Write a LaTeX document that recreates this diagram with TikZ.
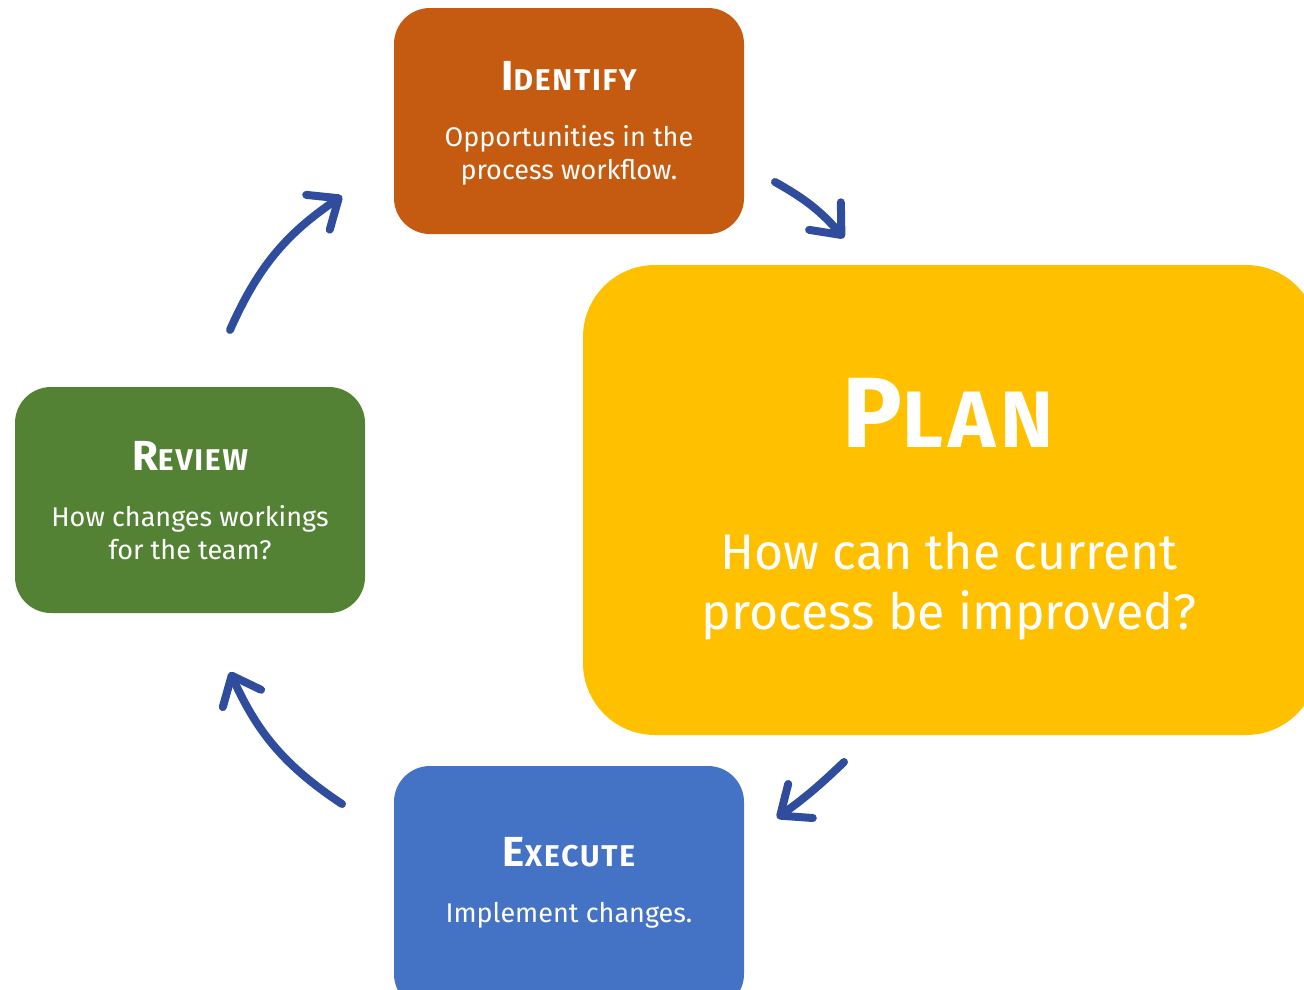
\documentclass[tikz,border=0pt]{standalone}
\usepackage{fontspec}
\setmainfont{Fira Sans}
\newfontfamily\scfont{Fira Sans}[LetterSpace=6]
\usetikzlibrary{arrows.meta}
\definecolor{cIdent}{HTML}{C55A11}
\definecolor{cPlan}{HTML}{FFC000}
\definecolor{cReview}{HTML}{548235}
\definecolor{cExec}{HTML}{4472C4}
\definecolor{cArrow}{HTML}{2F4D9C}
\tikzset{
  title/.style={text=white, anchor=base, inner sep=0pt, font=\scfont\bfseries},
  body/.style={text=white, anchor=base, inner sep=0pt, font=\fontsize{27}{33}\selectfont},
  bigbody/.style={text=white, anchor=base, inner sep=0pt, font=\fontsize{50}{60}\selectfont},
  flow/.style={draw=cArrow, line width=8pt, line cap=round,
    -{Straight Barb[length=25pt,width=42pt,round]}},
}
\begin{document}
\begin{tikzpicture}[x=1pt,y=-1pt]
\useasboundingbox (0,0) rectangle (1304,989);
\clip (0,0) rectangle (1304,989);
% boxes
\fill[cIdent, rounded corners=36pt] (394,8) rectangle (744,234);
\coordinate (identify) at (569,121);
\fill[cPlan, rounded corners=72pt] (583,265) rectangle (1318,735);
\coordinate (plan) at (950,500);
\fill[cReview, rounded corners=36pt] (15,387) rectangle (365,613);
\coordinate (review) at (190,500);
\fill[cExec, rounded corners=36pt] (394,766) rectangle (744,1010);
\coordinate (execute) at (569,880);
% identify
\node[title] (tI) at (569,90) {{\fontsize{42}{42}\selectfont I}{\fontsize{30}{30}\selectfont DENTIFY}};
\node[body] (bI1) at (569,146) {Opportunities in the};
\node[body] (bI2) at (569,179) {process workflow.};
% plan
\node[title] (tP) at (948,447) {{\fontsize{100}{100}\selectfont P}{\fontsize{80}{80}\selectfont LAN}};
\node[bigbody] (bP1) at (949,569) {How can the current};
\node[bigbody] (bP2) at (949,629) {process be improved?};
% review
\node[title] (tR) at (190,470) {{\fontsize{42}{42}\selectfont R}{\fontsize{30}{30}\selectfont EVIEW}};
\node[body] (bR1) at (190,526) {How changes workings};
\node[body] (bR2) at (190,559) {for the team?};
% execute
\node[title] (tE) at (569,866) {{\fontsize{42}{42}\selectfont E}{\fontsize{30}{30}\selectfont XECUTE}};
\node[body] (bE1) at (569,922) {Implement changes.};
% arrows
\coordinate (a1s) at (775,182);
\coordinate (a1e) at (844,238);
\coordinate (a2s) at (844,762);
\coordinate (a2e) at (777,818);
\coordinate (a3s) at (342,804);
\coordinate (a3e) at (230,672);
\coordinate (a4s) at (230,330);
\coordinate (a4e) at (342,196);
\draw[flow] (a1s) to[bend left=10] (a1e);
\draw[flow] (a2s) to[bend left=4] (a2e);
\draw[flow] (a3s) to[bend left=16] (a3e);
\draw[flow] (a4s) to[bend left=16] (a4e);
\end{tikzpicture}
\end{document}
